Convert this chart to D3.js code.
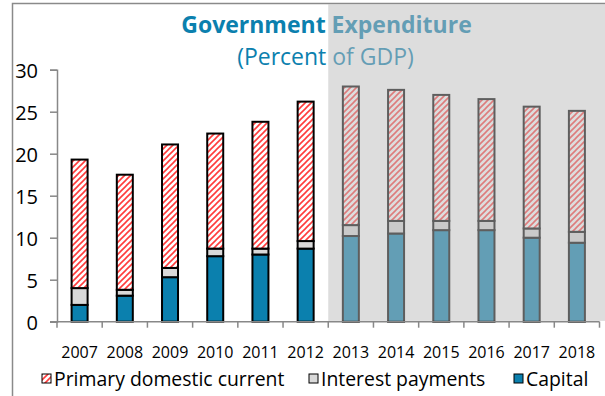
<!DOCTYPE html>
<html>
<head>
<meta charset="utf-8">
<script src="https://cdn.jsdelivr.net/npm/d3@7"></script>
<style>
  html, body { margin: 0; padding: 0; background: #fff; }
  svg { display: block; font-family: "Open Sans", "DejaVu Sans", sans-serif; }
</style>
</head>
<body>
<svg id="chart" width="605" height="396"></svg>
<script>
// Government expenditure by component, percent of GDP
const years = ["2007", "2008", "2009", "2010", "2011", "2012",
               "2013", "2014", "2015", "2016", "2017", "2018"];
const capital  = [2.0, 3.1, 5.3, 7.8, 8.0, 8.7, 10.2, 10.5, 10.9, 10.9, 10.0, 9.4];
const interest = [2.0, 0.7, 1.1, 0.9, 0.7, 0.9, 1.3, 1.5, 1.1, 1.1, 1.1, 1.3];
const primary  = [15.3, 13.7, 14.7, 13.7, 15.1, 16.6, 16.5, 15.6, 15.0, 14.5, 14.5, 14.4];
const yTicks = [0, 5, 10, 15, 20, 25, 30];
const firstProjectionYear = "2013";

const seriesNames = ["Capital", "Interest payments", "Primary domestic current"];
const legendLabels = ["Primary domestic current", "Interest payments", "Capital"];

const blue = "#0b80ae";
const greyFill = "#d9d9d9";
const hatchRed = "#ff3c3c";

const svg = d3.select("#chart");
const W = 605, H = 396;
const plot = { left: 57, right: 599.5, top: 69.7, bottom: 321.7 };

// hatch pattern for primary domestic current
const defs = svg.append("defs");
const pat = defs.append("pattern")
  .attr("id", "hatch")
  .attr("patternUnits", "userSpaceOnUse")
  .attr("width", 6).attr("height", 6);
pat.append("rect").attr("width", 6).attr("height", 6).attr("fill", "#fff");
pat.append("path")
  .attr("d", "M-1,1 l2,-2 M0,6 l6,-6 M5,7 l2,-2")
  .attr("stroke", hatchRed).attr("stroke-width", 1.6);

const fills = {
  "Capital": blue,
  "Interest payments": greyFill,
  "Primary domestic current": "url(#hatch)"
};

const table = years.map((y, i) => ({
  year: y,
  "Capital": capital[i],
  "Interest payments": interest[i],
  "Primary domestic current": primary[i]
}));

const x = d3.scaleBand().domain(years).range([plot.left, plot.right]).padding(0);
const y = d3.scaleLinear().domain([0, 30]).range([plot.bottom, plot.top]);

const stack = d3.stack().keys(seriesNames)(table);

// outer frame
svg.append("rect")
  .attr("x", 12.5).attr("y", 3.5)
  .attr("width", W + 20).attr("height", H + 20)
  .attr("fill", "none").attr("stroke", "#8a8a8a").attr("stroke-width", 1.5);

// title
svg.append("text")
  .attr("x", 326.5).attr("y", 33)
  .attr("text-anchor", "middle")
  .attr("font-size", 23).attr("font-weight", 700)
  .attr("fill", blue)
  .text("Government Expenditure");

svg.append("text")
  .attr("x", 325.5).attr("y", 65)
  .attr("text-anchor", "middle")
  .attr("font-size", 23)
  .attr("fill", blue)
  .text("(Percent of GDP)");

// stacked bars
const barW = 16;
const layers = svg.append("g").selectAll("g")
  .data(stack).join("g")
  .attr("fill", d => fills[d.key]);

layers.selectAll("rect")
  .data(d => d)
  .join("rect")
  .attr("x", d => x(d.data.year) + x.bandwidth() / 2 - barW / 2)
  .attr("y", d => y(d[1]))
  .attr("width", barW)
  .attr("height", d => y(d[0]) - y(d[1]))
  .attr("stroke", "#000")
  .attr("stroke-width", 2);

// y axis
const yAxis = svg.append("g")
  .attr("transform", `translate(${plot.left},0)`)
  .call(d3.axisLeft(y).tickValues(yTicks).tickSize(7).tickPadding(12).tickFormat(d3.format("d")));
yAxis.select(".domain").attr("stroke", "#888").attr("stroke-width", 1.5);
yAxis.selectAll(".tick line").attr("stroke", "#888").attr("stroke-width", 1.5);
yAxis.selectAll(".tick text")
  .attr("font-size", 20).attr("fill", "#000")
  .attr("font-family", "\"Open Sans\", sans-serif")
  .attr("dy", "0.40em");

// x axis: ticks on category boundaries
const xAxis = svg.append("g")
  .attr("transform", `translate(0,${plot.bottom})`);
xAxis.append("line")
  .attr("x1", plot.left - 7).attr("x2", plot.right)
  .attr("stroke", "#888").attr("stroke-width", 1.5);
const bounds = years.map(yy => x(yy)).concat([x(years[years.length - 1]) + x.bandwidth()]);
xAxis.selectAll("line.tk").data(bounds).join("line")
  .attr("class", "tk")
  .attr("x1", d => d).attr("x2", d => d)
  .attr("y1", 0).attr("y2", 6)
  .attr("stroke", "#888").attr("stroke-width", 1.5);
xAxis.selectAll("text").data(years).join("text")
  .attr("x", d => x(d) + x.bandwidth() / 2)
  .attr("y", 36)
  .attr("text-anchor", "middle")
  .attr("font-size", 16)
  .attr("fill", "#000")
  .text(d => d);

// shaded projection period
const shadeX = x(firstProjectionYear);
svg.append("rect")
  .attr("x", shadeX).attr("y", 4.3)
  .attr("width", W - shadeX + 5).attr("height", plot.bottom - 0.8 - 4.3)
  .attr("fill", "#bcbcbc").attr("fill-opacity", 0.5);

// legend
const legendX = [42, 309, 514];
const legend = svg.append("g").selectAll("g")
  .data(legendLabels).join("g")
  .attr("transform", (d, i) => `translate(${legendX[i]},374)`);
legend.append("rect")
  .attr("width", 9).attr("height", 9)
  .attr("fill", d => fills[d])
  .attr("stroke", "#000").attr("stroke-width", 1);
legend.append("text")
  .attr("x", 12).attr("y", 12)
  .attr("font-size", 19.4)
  .attr("fill", "#000")
  .text(d => d);
</script>
</body>
</html>
